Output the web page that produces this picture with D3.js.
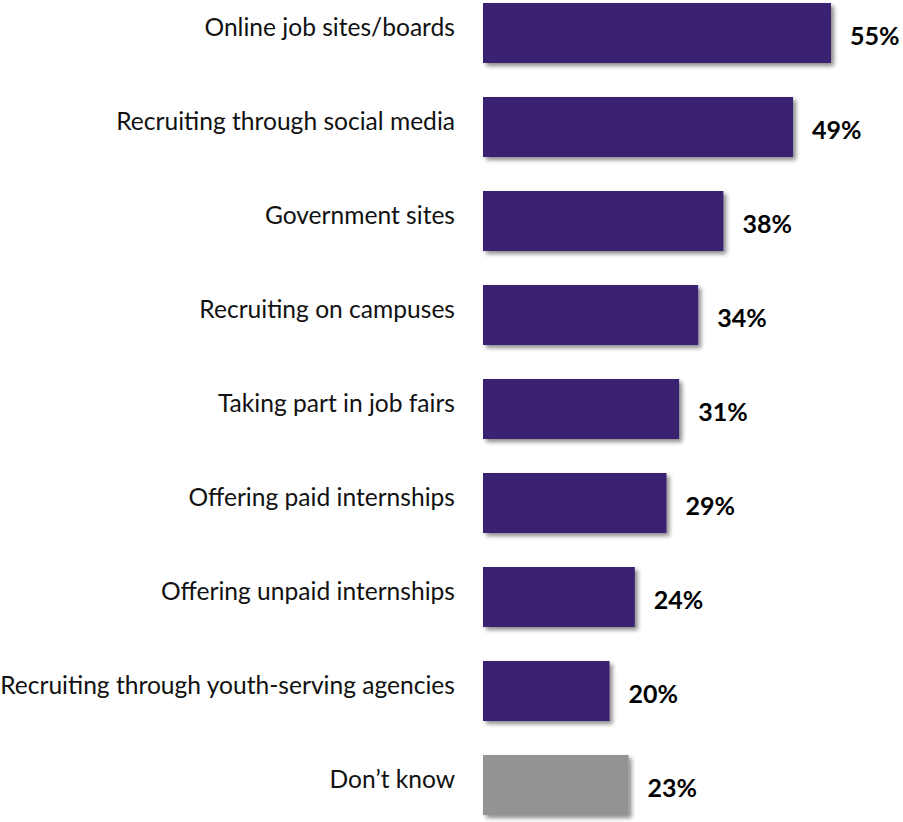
<!DOCTYPE html>
<html>
<head>
<meta charset="utf-8">
<script src="https://cdn.jsdelivr.net/npm/d3@7"></script>
<style>
  html, body { margin: 0; padding: 0; background: #fff; }
  svg { display: block; }
</style>
</head>
<body>
<svg id="chart" width="903" height="822"></svg>
<script>
const categories = [
  "Online job sites/boards",
  "Recruiting through social media",
  "Government sites",
  "Recruiting on campuses",
  "Taking part in job fairs",
  "Offering paid internships",
  "Offering unpaid internships",
  "Recruiting through youth-serving agencies",
  "Don\u2019t know"
];
const values = [55, 49, 38, 34, 31, 29, 24, 20, 23];
const valueLabels = ["55%", "49%", "38%", "34%", "31%", "29%", "24%", "20%", "23%"];
const barColors = ["#3b2370", "#3b2370", "#3b2370", "#3b2370", "#3b2370", "#3b2370", "#3b2370", "#3b2370", "#939393"];

const svg = d3.select("#chart");
const defs = svg.append("defs");
const f = defs.append("filter").attr("id", "shadow")
  .attr("x", "-10%").attr("y", "-20%").attr("width", "130%").attr("height", "150%");
f.append("feDropShadow").attr("dx", 3).attr("dy", 3).attr("stdDeviation", 2)
  .attr("flood-color", "#000").attr("flood-opacity", 0.45);

const x = d3.scaleLinear().domain([0, 55]).range([483, 831]);
const pi = 34 / 94;
const y = d3.scaleBand().domain(categories).range([-14, 832])
  .paddingInner(pi).paddingOuter(pi / 2);

const data = categories.map((c, i) => ({ c, v: values[i], l: valueLabels[i], col: barColors[i] }));

svg.append("g").selectAll("rect").data(data).join("rect")
  .attr("x", x(0))
  .attr("y", d => y(d.c))
  .attr("width", d => x(d.v) - x(0))
  .attr("height", y.bandwidth())
  .attr("fill", d => d.col)
  .attr("filter", "url(#shadow)");

const catG = svg.append("g");
const catText = catG.selectAll("text").data(data).join("text")
  .attr("x", 455)
  .attr("y", d => y(d.c) + y.bandwidth() / 2 + 3)
  .attr("text-anchor", "end")
  .attr("font-family", "Lato, 'Open Sans', sans-serif")
  .attr("font-size", 23)
  .attr("fill", "#111")
  .text(d => d.c);

// fit the longest label to the reference width
const longest = catText.nodes()[7];
const w = longest.getComputedTextLength();
const fs = 23 * 455 / w;
catText.attr("font-size", fs);

svg.append("g").selectAll("text").data(data).join("text")
  .attr("x", d => x(d.v) + 19)
  .attr("y", d => y(d.c) + y.bandwidth() / 2 + 12)
  .attr("font-family", "Lato, 'Open Sans', sans-serif")
  .attr("font-weight", "bold")
  .attr("font-size", 25)
  .attr("fill", "#000")
  .text(d => d.l);
</script>
</body>
</html>
